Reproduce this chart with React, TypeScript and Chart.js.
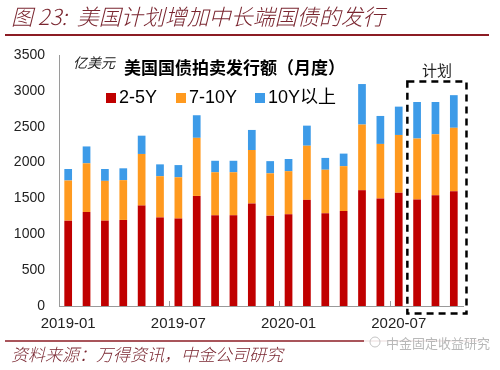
import React, { useEffect, useRef } from "react";
import { Chart, registerables } from "chart.js";

Chart.register(...registerables);

const categories = [
  "2019-01", "2019-02", "2019-03", "2019-04", "2019-05", "2019-06",
  "2019-07", "2019-08", "2019-09", "2019-10", "2019-11", "2019-12",
  "2020-01", "2020-02", "2020-03", "2020-04", "2020-05", "2020-06",
  "2020-07", "2020-08", "2020-09", "2020-10",
];
const shownLabels = ["2019-01", "2019-07", "2020-01", "2020-07"];

const y2to5 = [1190, 1310, 1190, 1200, 1400, 1235, 1220, 1535, 1265, 1265, 1430, 1260, 1280, 1480, 1295, 1325, 1615, 1500, 1580, 1485, 1545, 1600];
const y7to10 = [560, 680, 555, 555, 720, 575, 575, 810, 600, 600, 745, 590, 600, 755, 605, 625, 915, 760, 805, 850, 850, 885];
const y10plus = [160, 235, 165, 165, 255, 165, 170, 315, 160, 160, 280, 170, 170, 280, 165, 175, 565, 390, 395, 510, 450, 455];

const seriesNames = ["2-5Y", "7-10Y", "10Y以上"];
const seriesColors = ["#C00000", "#FF9A1F", "#3D9BE8"];
const planStart = 19;
const planEnd = 21;
const planTop = 3130;

const title = "图 23:  美国计划增加中长端国债的发行";
const chartTitle = "美国国债拍卖发行额（月度）";
const unitLabel = "亿美元";
const planLabel = "计划";
const source = "资料来源：万得资讯，中金公司研究";
const watermark = "中金固定收益研究";

const CJK = '"Noto Sans CJK SC"';

const overlay = {
  id: "overlay",
  afterDraw(chart: any) {
    const ctx = chart.ctx;
    const xs = chart.scales.x;
    const ys = chart.scales.y;
    const area = chart.chartArea;
    ctx.save();

    // header
    ctx.fillStyle = "#7a2630";
    ctx.font = `italic 300 22px ${CJK}`;
    ctx.textBaseline = "middle";
    ctx.textAlign = "left";
    ctx.fillText(title, 11, 17);
    ctx.strokeStyle = "#8c1c24";
    ctx.lineWidth = 2;
    ctx.beginPath();
    ctx.moveTo(5, 35);
    ctx.lineTo(489, 35);
    ctx.stroke();

    // footer
    ctx.lineWidth = 1.5;
    ctx.beginPath();
    ctx.moveTo(5, 341);
    ctx.lineTo(481, 341);
    ctx.stroke();
    ctx.fillStyle = "#7a2630";
    ctx.font = `italic 300 17px ${CJK}`;
    ctx.fillText(source, 11, 355);

    // watermark
    ctx.fillStyle = "rgba(255,255,255,0.9)";
    ctx.fillRect(364, 334, 118, 16);
    ctx.fillStyle = "#b8b8b8";
    ctx.font = `13px ${CJK}`;
    ctx.fillText(watermark, 386, 343);
    ctx.strokeStyle = "#c4c4c4";
    ctx.lineWidth = 1;
    ctx.beginPath();
    ctx.arc(375, 342, 5, 0, Math.PI * 2);
    ctx.stroke();

    // unit, chart title
    ctx.fillStyle = "#222";
    ctx.font = `italic 14px ${CJK}`;
    ctx.fillText(unitLabel, 73, 63);
    ctx.fillStyle = "#000";
    ctx.font = `bold 17px ${CJK}`;
    ctx.fillText(chartTitle, 124, 68);

    // legend
    const legendX = [106, 176, 255];
    ctx.font = `18px "Liberation Sans", ${CJK}`;
    for (let i = 0; i < 3; i++) {
      ctx.fillStyle = seriesColors[i];
      ctx.fillRect(legendX[i], 93, 10, 10);
      ctx.fillStyle = "#000";
      ctx.fillText(seriesNames[i], legendX[i] + 13, 98);
    }

    // x axis inner ticks
    ctx.strokeStyle = "#9a9a9a";
    ctx.lineWidth = 1;
    const catW = xs.getPixelForValue(1) - xs.getPixelForValue(0);
    for (let i = 6; i < categories.length; i += 6) {
      const x = Math.round(xs.getPixelForValue(i) - catW / 2) + 0.5;
      ctx.beginPath();
      ctx.moveTo(x, area.bottom);
      ctx.lineTo(x, area.bottom - 5);
      ctx.stroke();
    }

    // plan box
    const left = xs.getPixelForValue(planStart) - catW * 0.53;
    const right = xs.getPixelForValue(planEnd) + catW * 0.69;
    const top = ys.getPixelForValue(planTop);
    const bottom = area.bottom + 7.5;
    ctx.strokeStyle = "#000";
    ctx.lineWidth = 2.5;
    ctx.setLineDash([7, 5]);
    ctx.strokeRect(left, top, right - left, bottom - top);
    ctx.setLineDash([]);
    ctx.fillStyle = "#222";
    ctx.font = `15px ${CJK}`;
    ctx.textAlign = "center";
    ctx.fillText(planLabel, (left + right) / 2, 70);

    ctx.restore();
  },
};

export default function App() {
  const ref = useRef<HTMLCanvasElement | null>(null);
  useEffect(() => {
    if (!ref.current) return;
    const data = [y2to5, y7to10, y10plus];
    const chart = new Chart(ref.current, {
      type: "bar",
      data: {
        labels: categories,
        datasets: data.map((d, i) => ({
          label: seriesNames[i],
          data: d,
          backgroundColor: seriesColors[i],
          borderWidth: 0,
          categoryPercentage: 1,
          barPercentage: 0.42,
        })),
      },
      options: {
        responsive: false,
        animation: false,
        layout: { padding: { top: 55, right: 37, left: 0, bottom: 0 } },
        plugins: { legend: { display: false }, title: { display: false }, tooltip: { enabled: false } },
        scales: {
          x: {
            stacked: true,
            grid: { display: false, drawTicks: false },
            border: { display: true, color: "#9a9a9a", width: 1 },
            ticks: {
              autoSkip: false,
              maxRotation: 0,
              padding: 9,
              color: "#222",
              font: { family: "Liberation Sans", size: 15 },
              callback: (_v: any, idx: number) =>
                shownLabels.includes(categories[idx]) ? categories[idx] : "",
            },
            afterFit: (s: any) => {
              s.height = 64;
            },
          },
          y: {
            stacked: true,
            min: 0,
            max: 3500,
            grid: { display: false, drawTicks: false },
            border: { display: true, color: "#9a9a9a", width: 1 },
            ticks: {
              stepSize: 500,
              padding: 14,
              color: "#222",
              font: { family: "Liberation Sans", size: 14 },
              callback: (v: any) => String(v),
            },
            afterFit: (s: any) => {
              s.width = 59;
            },
          },
        },
      },
      plugins: [overlay],
    });
    return () => chart.destroy();
  }, []);
  return (
    <div style={{ position: "absolute", left: 0, top: 0, width: 500, height: 370, background: "#fff" }}>
      <canvas ref={ref} width={500} height={370} />
    </div>
  );
}
